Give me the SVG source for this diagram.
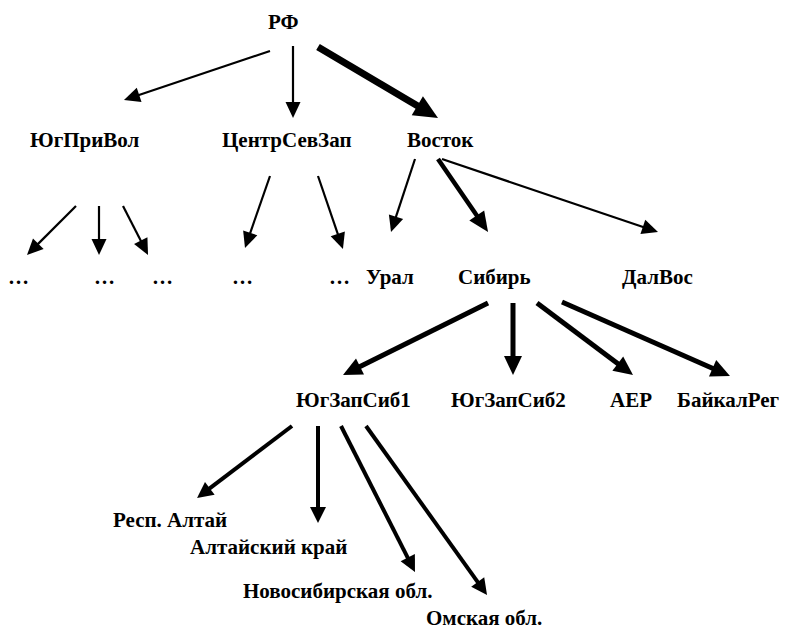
<svg xmlns="http://www.w3.org/2000/svg" width="786" height="630" viewBox="0 0 786 630">
<style>
text{font-family:"Liberation Serif","Times New Roman",serif;font-weight:bold;font-size:21px;fill:#000}
.c{fill:none;stroke:#000;stroke-linecap:butt}
.t1{stroke-width:2.2;marker-end:url(#h1)}
.t3{stroke-width:5;marker-end:url(#h3)}
.t2{stroke-width:4;marker-end:url(#h2)}
.tb{stroke-width:4.5;marker-end:url(#hb)}
.t4{stroke-width:7;marker-end:url(#h4)}
</style>
<defs>
<marker id="h1" markerUnits="userSpaceOnUse" markerWidth="16" markerHeight="15" refX="1" refY="7.5" orient="auto" overflow="visible"><path d="M0,0L16,7.5L0,15z" fill="#000"/></marker>
<marker id="h2" markerUnits="userSpaceOnUse" markerWidth="16" markerHeight="16" refX="1" refY="8" orient="auto" overflow="visible"><path d="M0,0L16,8L0,16z" fill="#000"/></marker>
<marker id="h3" markerUnits="userSpaceOnUse" markerWidth="19" markerHeight="18" refX="1" refY="9" orient="auto" overflow="visible"><path d="M0,0L19,9L0,18z" fill="#000"/></marker>
<marker id="hb" markerUnits="userSpaceOnUse" markerWidth="20" markerHeight="18" refX="1" refY="9" orient="auto" overflow="visible"><path d="M0,0L20,9L0,18z" fill="#000"/></marker>
<marker id="h4" markerUnits="userSpaceOnUse" markerWidth="24" markerHeight="22" refX="1" refY="11" orient="auto" overflow="visible"><path d="M0,0L24,11L0,22z" fill="#000"/></marker>
</defs>
<g id="connectors">
<line class="c t1" x1="270" y1="51" x2="138.2" y2="95.2"/>
<line class="c t1" x1="293" y1="46" x2="293" y2="103"/>
<line class="c t4" x1="318" y1="47" x2="418.2" y2="106.3"/>
<line class="c t1" x1="76" y1="206" x2="37.6" y2="244.4"/>
<line class="c t1" x1="99" y1="206" x2="99" y2="240"/>
<line class="c t1" x1="123" y1="206" x2="141.2" y2="241.6"/>
<line class="c t1" x1="270" y1="176" x2="249.9" y2="233.8"/>
<line class="c t1" x1="318" y1="176" x2="338.1" y2="234.8"/>
<line class="c t1" x1="415" y1="159" x2="395.7" y2="217.7"/>
<line class="c tb" x1="438" y1="159" x2="477.3" y2="216.3"/>
<line class="c t1" x1="442" y1="159" x2="643.8" y2="227.2"/>
<line class="c t3" x1="488" y1="303" x2="359.1" y2="367"/>
<line class="c t3" x1="513" y1="303" x2="513" y2="357"/>
<line class="c t3" x1="537" y1="303" x2="618.6" y2="364.2"/>
<line class="c t3" x1="562" y1="302" x2="713.5" y2="368.7"/>
<line class="c t2" x1="292" y1="426" x2="209" y2="488.9"/>
<line class="c t2" x1="318" y1="426" x2="318" y2="508"/>
<line class="c t2" x1="341" y1="426" x2="408.2" y2="558.6"/>
<line class="c t2" x1="366" y1="426" x2="478.3" y2="582.8"/>
</g>
<g id="rf"><text x="268" y="29">РФ</text></g>
<g id="yugprivol"><text x="30" y="147">ЮгПриВол</text></g>
<g id="centrsevzap"><text x="222" y="147">ЦентрСевЗап</text></g>
<g id="vostok"><text x="407" y="147">Восток</text></g>
<g id="dots1"><text x="8" y="284">…</text></g>
<g id="dots2"><text x="94" y="284">…</text></g>
<g id="dots3"><text x="152" y="284">…</text></g>
<g id="dots4"><text x="232" y="284">…</text></g>
<g id="dots5"><text x="329" y="284">…</text></g>
<g id="ural"><text x="366" y="284">Урал</text></g>
<g id="sibir"><text x="458" y="284">Сибирь</text></g>
<g id="dalvos"><text x="622" y="284">ДалВос</text></g>
<g id="yugzapsib1"><text x="296" y="407">ЮгЗапСиб1</text></g>
<g id="yugzapsib2"><text x="451" y="407">ЮгЗапСиб2</text></g>
<g id="aer"><text x="610" y="407">АЕР</text></g>
<g id="baikalreg"><text x="677" y="407">БайкалРег</text></g>
<g id="resp-altai"><text x="113" y="527">Респ. Алтай</text></g>
<g id="altai-krai"><text x="190" y="554">Алтайский край</text></g>
<g id="novosib"><text x="243" y="598">Новосибирская обл.</text></g>
<g id="omsk"><text x="426" y="625">Омская обл.</text></g>
</svg>
